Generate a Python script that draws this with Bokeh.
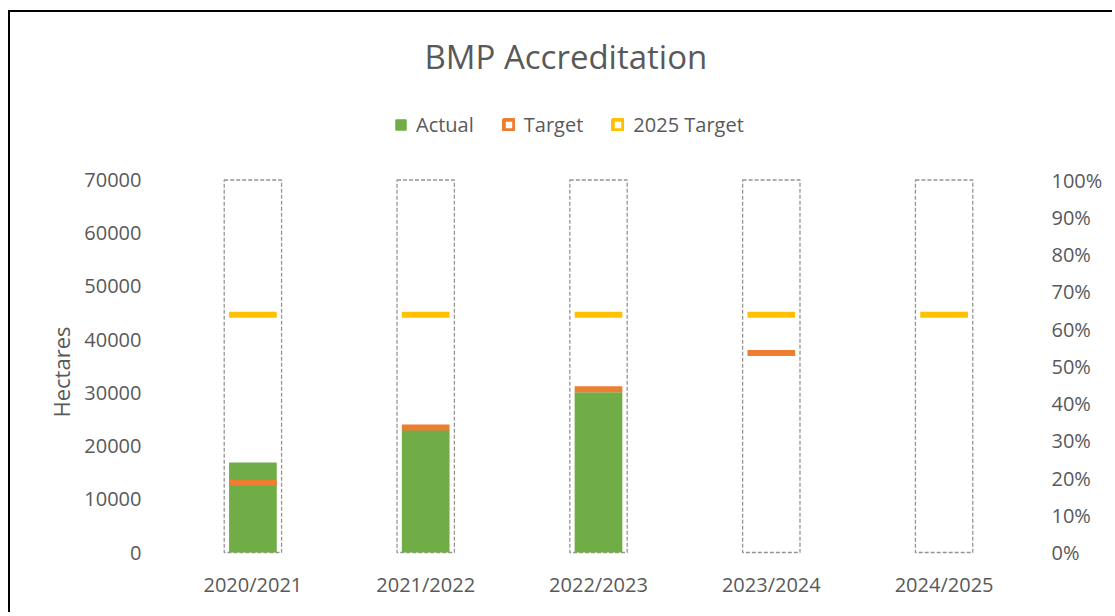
import math
from bokeh.plotting import figure
from bokeh.models import (Range1d, LinearAxis, FactorRange, Legend, LegendItem,
                          NumeralTickFormatter, FixedTicker, Title)
from bokeh.embed import file_html
from bokeh.resources import INLINE

nan = float("nan")

# ---- data ----
categories = ["2020/2021", "2021/2022", "2022/2023", "2023/2024", "2024/2025"]
actual = [16900, 23000, 30100, nan, nan]
target = [13100, 23500, 30700, 37500, nan]
target_2025 = [44700, 44700, 44700, 44700, 44700]
capacity_pct = [1.0, 1.0, 1.0, 1.0, 1.0]
left_ticks = [0, 10000, 20000, 30000, 40000, 50000, 60000, 70000]
right_ticks = [0.0, 0.1, 0.2, 0.3, 0.4, 0.5, 0.6, 0.7, 0.8, 0.9, 1.0]

GREEN = "#70AD47"
ORANGE = "#ED7D31"
YELLOW = "#FFC000"
TXT = "#595959"
FONT = "Open Sans"

# ---- layout (pixels) ----
W, H = 1104, 602
B_LEFT, B_RIGHT, B_TOP, B_BOTTOM = 156, 84, 83, 60
FRAME_H = H - B_TOP - B_BOTTOM
AXIS_PX = 372.5            # pixel height of the 0..70000 scale
ZERO_OFF = 2               # pixels from frame bottom to zero
ymax = 70000
unit = ymax / AXIS_PX
y_lo = -ZERO_OFF * unit
y_hi = (FRAME_H - ZERO_OFF) * unit

p = figure(
    x_range=FactorRange(*categories),
    y_range=Range1d(y_lo, y_hi),
    width=W, height=H,
    min_border_left=B_LEFT, min_border_right=B_RIGHT,
    min_border_top=B_TOP, min_border_bottom=B_BOTTOM,
    output_backend="svg", toolbar_location=None,
    background_fill_color="white", border_fill_color="white",
    outline_line_color=None,
)
p.styles = {"position": "relative", "left": "10px", "top": "12px",
            "box-shadow": "-2px -2px 0px 0px black"}
p.extra_y_ranges = {"pct": Range1d(y_lo / ymax, y_hi / ymax)}

# dashed capacity boxes (secondary axis, 100%)
p.vbar(x=categories, top=capacity_pct, bottom=0, width=0.332, y_range_name="pct",
       fill_color=None, line_color="#949494", line_width=1.3, line_dash="4 2")

# actual bars
p.vbar(x=categories, top=actual, bottom=0, width=0.276,
       fill_color=GREEN, line_color=None)

# target markers
p.rect(x=categories, y=target, width=0.276, height=6, height_units="screen",
       fill_color=ORANGE, line_color=None)
p.rect(x=categories, y=target_2025, width=0.276, height=6, height_units="screen",
       fill_color=YELLOW, line_color=None)

# legend proxies (one invisible datum each)
r_act = p.vbar(x=[categories[0]], top=[nan], width=0.1, fill_color=GREEN,
               line_color=GREEN, line_width=1)
r_tgt = p.vbar(x=[categories[0]], top=[nan], width=0.1, fill_color="white",
               line_color=ORANGE, line_width=4)
r_t25 = p.vbar(x=[categories[0]], top=[nan], width=0.1, fill_color="white",
               line_color=YELLOW, line_width=4)

legend = Legend(items=[LegendItem(label="Actual", renderers=[r_act]),
                       LegendItem(label="Target", renderers=[r_tgt]),
                       LegendItem(label="2025 Target", renderers=[r_t25])],
                orientation="horizontal", location=(228, 416),
                glyph_width=13, glyph_height=13, label_standoff=9, spacing=28,
                padding=0, margin=0, border_line_color=None, background_fill_alpha=0,
                label_text_font=FONT, label_text_font_size="20px", label_text_color=TXT)
p.add_layout(legend, "center")

# title
p.title.text = "BMP Accreditation"
p.title.text_font = FONT
p.title.text_font_size = "33px"
p.title.text_font_style = "normal"
p.title.text_color = TXT
p.title.align = "left"
p.title.offset = 258
p.title.standoff = 34

# axes
for ax in [p.yaxis[0], p.xaxis[0]]:
    ax.axis_line_color = None
    ax.major_tick_line_color = None
    ax.minor_tick_line_color = None
    ax.major_label_text_font = FONT
    ax.major_label_text_font_size = "20px"
    ax.major_label_text_color = TXT

p.yaxis[0].ticker = FixedTicker(ticks=left_ticks)
p.yaxis[0].major_label_standoff = 19
p.yaxis[0].formatter = NumeralTickFormatter(format="0")

# left axis title placed beside the 0..70000 scale
ytitle = Title(text="Hectares", align="left", offset=137, standoff=11,
               text_font=FONT, text_font_size="22px", text_font_style="normal",
               text_color=TXT)
p.add_layout(ytitle, "left")

p.xaxis[0].major_label_standoff = 10

right = LinearAxis(y_range_name="pct", ticker=FixedTicker(ticks=right_ticks),
                   formatter=NumeralTickFormatter(format="0%"))
right.axis_line_color = None
right.major_tick_line_color = None
right.minor_tick_line_color = None
right.major_label_text_font = FONT
right.major_label_text_font_size = "20px"
right.major_label_text_color = TXT
right.major_label_standoff = 15
p.add_layout(right, "right")

p.xgrid.grid_line_color = None
p.ygrid.grid_line_color = None

open("out.html", "w").write(file_html(p, INLINE))
